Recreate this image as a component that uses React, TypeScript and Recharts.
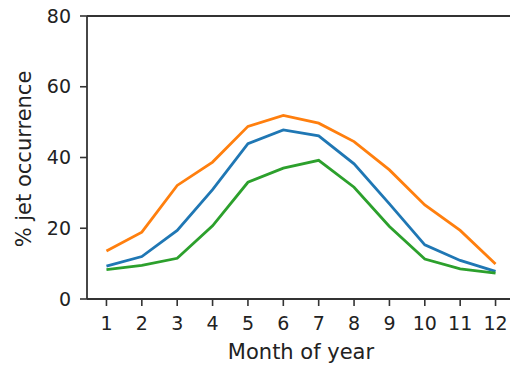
import { LineChart, Line, XAxis, YAxis, ReferenceLine } from 'recharts';

// month index 1..12
const months = [1, 2, 3, 4, 5, 6, 7, 8, 9, 10, 11, 12];

// % jet occurrence per month, one list per series
const orangeSeries = [13.6, 18.9, 32.1, 38.7, 48.8, 51.9, 49.7, 44.5, 36.5, 26.6, 19.4, 9.9];
const blueSeries = [9.3, 12.0, 19.4, 30.9, 43.9, 47.8, 46.1, 38.2, 26.9, 15.3, 10.9, 7.8];
const greenSeries = [8.3, 9.5, 11.5, 20.7, 33.0, 37.0, 39.2, 31.6, 20.5, 11.3, 8.5, 7.3];

const yTicks = [0, 20, 40, 60, 80];

const FONT = '"DejaVu Sans", sans-serif';
const INK = '#222';
const SPINE = '#333';

const data = months.map((m, i) => ({
  month: m,
  orange: orangeSeries[i],
  blue: blueSeries[i],
  green: greenSeries[i],
}));

const YLabel = () => (
  <text
    x={31}
    y={159}
    transform="rotate(-90 31 159)"
    textAnchor="middle"
    fontFamily={FONT}
    fontSize={21}
    fill={INK}
  >
    % jet occurrence
  </text>
);

export default function App() {
  const tickStyle = { fill: INK, fontSize: 19, fontFamily: FONT };
  return (
    <div style={{ position: 'absolute', left: 0, top: 0, width: 510, height: 365, overflow: 'hidden', background: '#fff' }}>
      <LineChart width={515} height={365} data={data} margin={{ top: 16, right: 0, left: 0, bottom: 0 }}>
        <XAxis
          dataKey="month"
          type="number"
          domain={[0.45, 12.55]}
          ticks={months}
          allowDataOverflow
          height={66}
          tick={tickStyle}
          tickSize={7}
          tickMargin={11}
          axisLine={{ stroke: SPINE, strokeWidth: 1.8 }}
          tickLine={{ stroke: SPINE, strokeWidth: 1.6 }}
          label={{
            value: 'Month of year',
            position: 'insideBottom',
            offset: 6,
            fill: INK,
            fontSize: 21,
            fontFamily: FONT,
          }}
        />
        <YAxis
          type="number"
          domain={[0, 80]}
          ticks={yTicks}
          width={87}
          tick={tickStyle}
          tickSize={7}
          tickMargin={9}
          axisLine={{ stroke: SPINE, strokeWidth: 1.8 }}
          tickLine={{ stroke: SPINE, strokeWidth: 1.6 }}
          label={<YLabel />}
        />
        <ReferenceLine y={80} stroke={SPINE} strokeWidth={1.8} ifOverflow="visible" />
        <Line type="linear" dataKey="orange" stroke="#ff7f0e" strokeWidth={2.8} dot={false} isAnimationActive={false} />
        <Line type="linear" dataKey="blue" stroke="#1f77b4" strokeWidth={2.8} dot={false} isAnimationActive={false} />
        <Line type="linear" dataKey="green" stroke="#2ca02c" strokeWidth={2.8} dot={false} isAnimationActive={false} />
      </LineChart>
    </div>
  );
}
